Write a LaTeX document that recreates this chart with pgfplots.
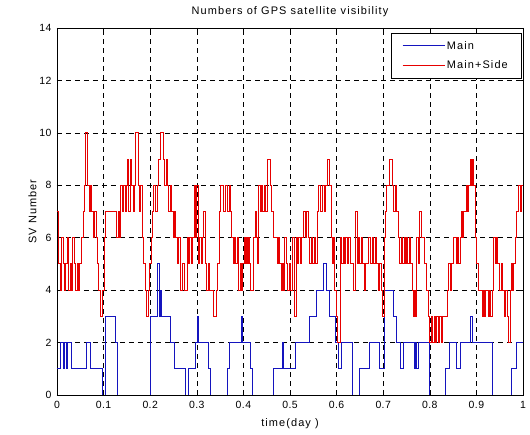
\documentclass[border=0pt]{standalone}
\usepackage{pgfplots}
\pgfplotsset{compat=1.18}
\usepackage{fontspec}
\setmainfont{Liberation Sans}
\newfontfamily\mfont[LetterSpace=10]{Liberation Sans}
\newfontfamily\tfont[LetterSpace=4]{Liberation Sans}
\definecolor{mblue}{RGB}{20,20,190}
\definecolor{mred}{RGB}{230,0,0}
\begin{document}
\begin{tikzpicture}
\useasboundingbox (-57bp,-40bp) rectangle (473bp,395bp);
\begin{axis}[
  scale only axis, width=466bp, height=367bp,
  xmin=0, xmax=1, ymin=0, ymax=14,
  xtick={0,0.1,...,1}, ytick={0,2,...,14},
  xticklabels={0,0.1,0.2,0.3,0.4,0.5,0.6,0.7,0.8,0.9,1},
  /pgf/number format/assume math mode=true,
  tick align=inside, major tick length=5bp,
  tick style={black, line width=0.6bp},
  axis line style={black, line width=0.8bp},
  grid=major,
  major grid style={black, dash pattern=on 5bp off 4bp, line width=0.6bp},
  font=\fontsize{11}{13}\mfont,
  ticklabel style={font=\fontsize{10.5}{12}\tfont},
  xticklabel style={yshift=-3bp},
  yticklabel style={xshift=-2bp},
  title={Numbers of GPS satellite visibility},
  title style={font=\fontsize{11}{13}\mfont, yshift=2bp},
  xlabel={time(day )}, ylabel={SV Number},
  xlabel style={font=\fontsize{11}{13}\mfont, yshift=-3bp},
  ylabel style={font=\fontsize{11}{13}\mfont, yshift=-4bp},
  legend style={at={(1,1)}, anchor=north east, xshift=-2bp, yshift=-5bp,
    font=\fontsize{11}{13}\mfont,
    inner xsep=11bp, inner ysep=6bp, row sep=6bp},
  legend cell align=left,
  legend image code/.code={\draw[#1] (-4bp,0bp) -- (38bp,0bp);},
]
\addplot[const plot, color=mblue, line width=0.9bp] table {
x y
0.000 1
0.007 2
0.014 1
0.016 2
0.020 1
0.022 2
0.030 1
0.064 2
0.071 1
0.098 0
0.103 3
0.125 2
0.130 0
0.201 3
0.216 5
0.219 3
0.223 4
0.225 3
0.243 2
0.251 1
0.275 0
0.283 1
0.298 2
0.301 3
0.304 2
0.326 1
0.330 0
0.366 1
0.369 2
0.395 3
0.398 2
0.416 1
0.420 0
0.464 1
0.483 2
0.487 1
0.511 2
0.541 3
0.556 4
0.571 5
0.578 4
0.585 3
0.597 2
0.603 1
0.610 2
0.634 0
0.649 1
0.671 2
0.692 1
0.703 4
0.723 3
0.729 2
0.736 1
0.744 2
0.768 1
0.770 2
0.772 1
0.775 2
0.800 0
0.833 1
0.843 2
0.858 1
0.866 2
0.888 3
0.891 2
0.934 0
0.976 1
0.987 2
1.000 2
};
\addlegendentry{Main}
\addplot[const plot, color=mred, line width=0.9bp] table {
x y
0.000 7
0.004 5
0.007 4
0.010 6
0.013 5
0.016 4
0.019 5
0.022 6
0.025 4
0.028 5
0.031 4
0.034 6
0.037 5
0.040 4
0.043 5
0.046 4
0.049 5
0.052 6
0.056 7
0.059 8
0.062 10
0.066 8
0.069 7
0.072 8
0.075 7
0.078 6
0.081 7
0.084 6
0.087 5
0.090 4
0.093 3
0.098 4
0.101 6
0.104 7
0.128 6
0.131 7
0.134 6
0.137 8
0.140 7
0.143 8
0.146 7
0.149 8
0.151 9
0.154 7
0.157 9
0.160 8
0.163 7
0.166 8
0.168 10
0.174 8
0.177 7
0.180 8
0.183 6
0.186 5
0.189 4
0.191 3
0.196 4
0.199 5
0.202 6
0.205 7
0.208 8
0.212 7
0.215 8
0.218 9
0.222 10
0.228 9
0.231 8
0.234 9
0.237 8
0.240 7
0.243 8
0.246 7
0.249 6
0.252 7
0.255 6
0.258 5
0.261 6
0.264 4
0.270 5
0.273 4
0.279 6
0.282 5
0.285 6
0.288 5
0.291 6
0.294 8
0.297 6
0.300 8
0.303 5
0.306 6
0.309 5
0.312 6
0.315 7
0.318 5
0.321 4
0.324 5
0.327 4
0.335 3
0.342 4
0.345 5
0.348 7
0.351 8
0.358 7
0.361 8
0.366 7
0.369 8
0.372 7
0.375 6
0.378 5
0.381 6
0.384 5
0.387 6
0.390 4
0.393 5
0.396 4
0.399 5
0.402 6
0.404 5
0.406 6
0.408 5
0.410 6
0.412 5
0.415 4
0.421 6
0.425 7
0.428 6
0.430 5
0.433 8
0.436 7
0.438 8
0.441 7
0.445 8
0.448 7
0.452 9
0.458 8
0.461 7
0.464 6
0.472 5
0.475 6
0.478 5
0.481 4
0.483 5
0.485 4
0.488 6
0.492 5
0.495 4
0.499 5
0.502 4
0.505 6
0.509 3
0.513 6
0.516 5
0.519 6
0.522 5
0.525 6
0.529 7
0.533 6
0.536 7
0.539 6
0.542 5
0.546 6
0.549 5
0.552 6
0.555 5
0.558 7
0.562 8
0.566 7
0.569 8
0.573 7
0.576 8
0.580 9
0.585 8
0.588 6
0.591 5
0.594 6
0.596 4
0.599 3
0.602 2
0.608 6
0.611 5
0.614 6
0.617 5
0.620 6
0.623 5
0.626 6
0.629 5
0.636 4
0.641 7
0.644 5
0.647 6
0.650 5
0.653 6
0.656 5
0.659 4
0.662 5
0.668 6
0.673 5
0.676 6
0.680 5
0.683 6
0.686 5
0.690 4
0.693 5
0.696 4
0.699 3
0.703 6
0.705 7
0.708 8
0.714 9
0.720 8
0.723 7
0.726 8
0.729 7
0.732 6
0.735 5
0.739 6
0.742 5
0.745 6
0.748 5
0.750 6
0.753 5
0.756 6
0.759 5
0.762 4
0.765 3
0.767 4
0.769 3
0.772 6
0.775 5
0.778 7
0.782 6
0.788 5
0.792 4
0.797 3
0.800 2
0.803 3
0.806 2
0.809 3
0.812 2
0.815 3
0.818 2
0.821 3
0.824 2
0.827 3
0.838 4
0.841 5
0.844 4
0.847 5
0.850 6
0.858 5
0.860 6
0.862 5
0.865 6
0.867 7
0.870 6
0.873 7
0.878 8
0.881 7
0.884 8
0.887 9
0.889 8
0.891 9
0.894 8
0.898 6
0.901 5
0.904 4
0.912 3
0.915 4
0.918 3
0.920 4
0.926 3
0.929 4
0.931 3
0.934 4
0.937 6
0.940 5
0.943 6
0.946 5
0.949 4
0.953 5
0.956 4
0.960 3
0.963 4
0.966 3
0.969 2
0.972 4
0.975 5
0.978 4
0.980 5
0.983 6
0.987 7
0.991 8
0.995 7
0.997 8
1.000 8
};
\addlegendentry{Main+Side}
\end{axis}
\end{tikzpicture}
\end{document}
